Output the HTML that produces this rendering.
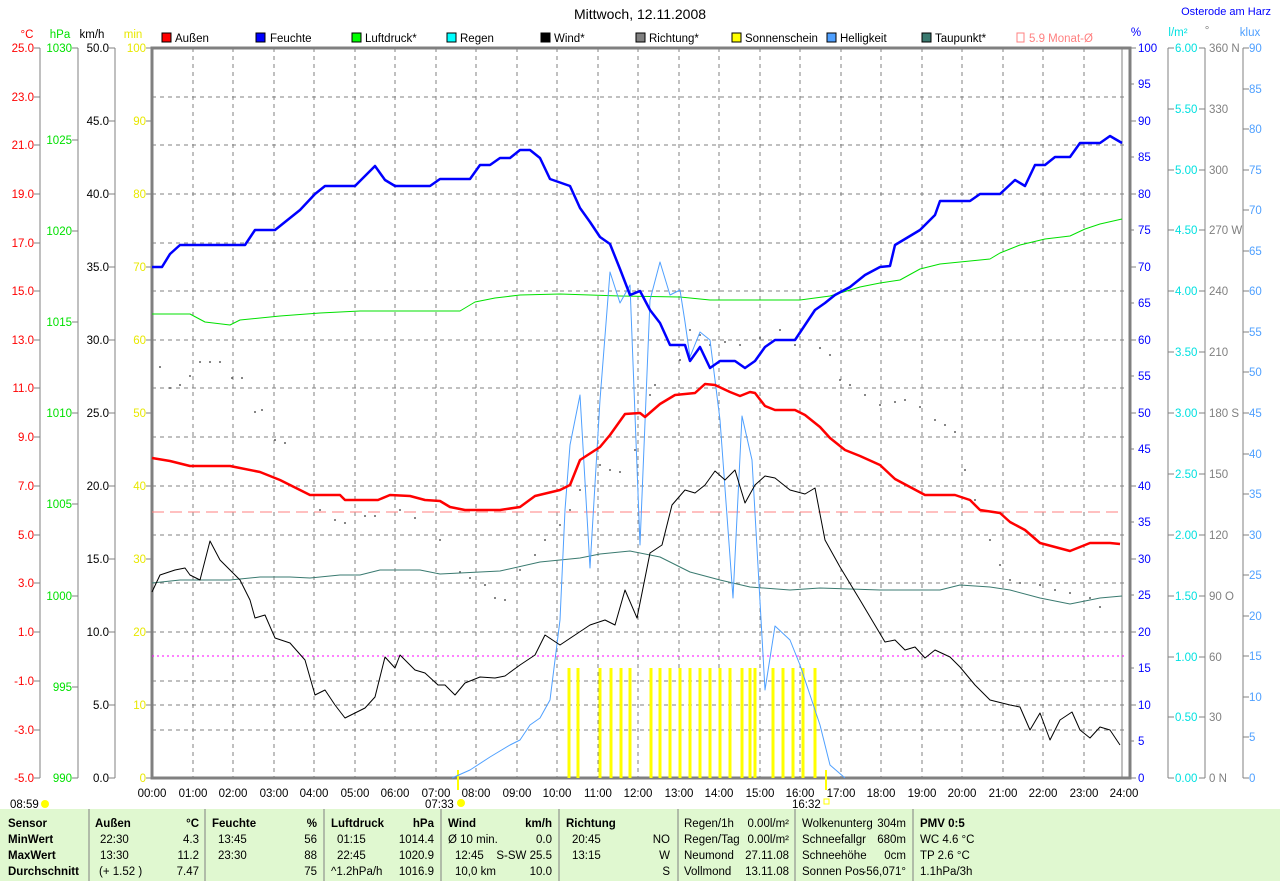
<!DOCTYPE html>
<html><head><meta charset="utf-8"><style>
body{margin:0;background:#fff;width:1280px;height:881px;overflow:hidden;font-family:"Liberation Sans",sans-serif}
svg text{font-family:"Liberation Sans",sans-serif;font-size:11.5px}
</style></head><body>
<svg width="1280" height="881" xmlns="http://www.w3.org/2000/svg">
<text x="640" y="19" text-anchor="middle" style="font-size:14px">Mittwoch, 12.11.2008</text>
<text x="1271" y="15" text-anchor="end" fill="#0000ff" style="font-size:11px">Osterode am Harz</text>
<!-- unit labels -->
<text x="27" y="38" fill="#ff0000" text-anchor="middle">°C</text>
<text x="60" y="38" fill="#00e000" text-anchor="middle">hPa</text>
<text x="92" y="38" text-anchor="middle">km/h</text>
<text x="133" y="38" fill="#e8e800" text-anchor="middle">min</text>
<text x="1136" y="36" fill="#0000ff" text-anchor="middle">%</text>
<text x="1178" y="36" fill="#00e0e0" text-anchor="middle">l/m²</text>
<text x="1207" y="34" fill="#808080" text-anchor="middle">°</text>
<text x="1250" y="36" fill="#4fa0ff" text-anchor="middle">klux</text>
<!-- legend -->
<g>
<rect x="162" y="33" width="9" height="9" fill="#f00" stroke="#000"/><text x="175" y="42">Außen</text>
<rect x="256" y="33" width="9" height="9" fill="#00f" stroke="#000"/><text x="270" y="42">Feuchte</text>
<rect x="352" y="33" width="9" height="9" fill="#0f0" stroke="#000"/><text x="365" y="42">Luftdruck*</text>
<rect x="447" y="33" width="9" height="9" fill="#0ff" stroke="#000"/><text x="460" y="42">Regen</text>
<rect x="541" y="33" width="9" height="9" fill="#000" stroke="#000"/><text x="554" y="42">Wind*</text>
<rect x="636" y="33" width="9" height="9" fill="#808080" stroke="#000"/><text x="649" y="42">Richtung*</text>
<rect x="732" y="33" width="9" height="9" fill="#ff0" stroke="#000"/><text x="745" y="42">Sonnenschein</text>
<rect x="827" y="33" width="9" height="9" fill="#4fa0ff" stroke="#000"/><text x="840" y="42">Helligkeit</text>
<rect x="922" y="33" width="9" height="9" fill="#3a7a70" stroke="#000"/><text x="935" y="42">Taupunkt*</text>
<rect x="1017" y="33" width="7" height="9" fill="none" stroke="#ff8080"/><text x="1029" y="42" fill="#ff8080">5.9 Monat-Ø</text>
</g>
<!-- grid -->
<g stroke="#808080" stroke-dasharray="4,4" stroke-width="1">
<path d="M193 48V778M233 48V778M274 48V778M314 48V778M355 48V778M395 48V778M436 48V778M476 48V778M517 48V778M557 48V778M598 48V778M638 48V778M679 48V778M719 48V778M760 48V778M800 48V778M841 48V778M881 48V778M922 48V778M962 48V778M1003 48V778M1043 48V778M1084 48V778"/>
<path d="M152 97H1124M152 145H1124M152 194H1124M152 243H1124M152 291H1124M152 340H1124M152 388H1124M152 437H1124M152 486H1124M152 535H1124M152 583H1124M152 632H1124M152 681H1124M152 705H1124M152 730H1124"/>
</g>
<!-- frame -->
<g stroke="#808080" fill="none">
<rect x="152" y="48" width="978" height="730" stroke-width="3"/>
<path d="M1122 48V778"/>
<path d="M40 48V778M78 48V778M115 48V778M1168 48V778M1205 48V778M1243 48V778"/>
</g>
<g fill="#ff0000" text-anchor="end">
<text x="34" y="52">25.0</text><text x="34" y="101">23.0</text><text x="34" y="149">21.0</text><text x="34" y="198">19.0</text><text x="34" y="247">17.0</text><text x="34" y="295">15.0</text><text x="34" y="344">13.0</text><text x="34" y="392">11.0</text><text x="34" y="441">9.0</text><text x="34" y="490">7.0</text><text x="34" y="539">5.0</text><text x="34" y="587">3.0</text><text x="34" y="636">1.0</text><text x="34" y="685">-1.0</text><text x="34" y="734">-3.0</text><text x="34" y="782">-5.0</text>
</g>
<g stroke="#808080"><path d="M34 48h6M34 97h6M34 145h6M34 194h6M34 243h6M34 291h6M34 340h6M34 388h6M34 437h6M34 486h6M34 535h6M34 583h6M34 632h6M34 681h6M34 730h6M34 778h6"/>
<path d="M72 48h6M72 140h6M72 231h6M72 322h6M72 413h6M72 504h6M72 596h6M72 687h6M72 778h6"/>
<path d="M109 48h6M109 121h6M109 194h6M109 267h6M109 340h6M109 413h6M109 486h6M109 559h6M109 632h6M109 705h6M109 778h6"/>
<path d="M146 48h6M146 121h6M146 194h6M146 267h6M146 340h6M146 413h6M146 486h6M146 559h6M146 632h6M146 705h6M146 778h6"/>
<path d="M1130 48h6M1130 84h4M1130 121h6M1130 157h4M1130 194h6M1130 230h4M1130 267h6M1130 303h4M1130 340h6M1130 376h4M1130 413h6M1130 449h4M1130 486h6M1130 522h4M1130 559h6M1130 595h4M1130 632h6M1130 668h4M1130 705h6M1130 741h4M1130 778h6"/>
<path d="M1168 48h6M1168 109h6M1168 170h6M1168 230h6M1168 291h6M1168 352h6M1168 413h6M1168 474h6M1168 535h6M1168 596h6M1168 657h6M1168 717h6M1168 778h6"/>
<path d="M1199 48h6M1199 109h6M1199 170h6M1199 230h6M1199 291h6M1199 352h6M1199 413h6M1199 474h6M1199 535h6M1199 596h6M1199 657h6M1199 717h6M1199 778h6"/>
<path d="M1243 48h6M1243 89h6M1243 129h6M1243 170h6M1243 210h6M1243 251h6M1243 291h6M1243 332h6M1243 372h6M1243 413h6M1243 454h6M1243 494h6M1243 535h6M1243 575h6M1243 616h6M1243 656h6M1243 697h6M1243 737h6M1243 778h6"/>
</g>
<g fill="#00e000" text-anchor="end"><text x="72" y="52">1030</text><text x="72" y="144">1025</text><text x="72" y="235">1020</text><text x="72" y="326">1015</text><text x="72" y="417">1010</text><text x="72" y="508">1005</text><text x="72" y="600">1000</text><text x="72" y="691">995</text><text x="72" y="782">990</text></g>
<g fill="#000" text-anchor="end"><text x="109" y="52">50.0</text><text x="109" y="125">45.0</text><text x="109" y="198">40.0</text><text x="109" y="271">35.0</text><text x="109" y="344">30.0</text><text x="109" y="417">25.0</text><text x="109" y="490">20.0</text><text x="109" y="563">15.0</text><text x="109" y="636">10.0</text><text x="109" y="709">5.0</text><text x="109" y="782">0.0</text></g>
<g fill="#e8e800" text-anchor="end"><text x="146" y="52">100</text><text x="146" y="125">90</text><text x="146" y="198">80</text><text x="146" y="271">70</text><text x="146" y="344">60</text><text x="146" y="417">50</text><text x="146" y="490">40</text><text x="146" y="563">30</text><text x="146" y="636">20</text><text x="146" y="709">10</text><text x="146" y="782">0</text></g>
<g fill="#0000ff"><text x="1138" y="52">100</text><text x="1138" y="88">95</text><text x="1138" y="125">90</text><text x="1138" y="161">85</text><text x="1138" y="198">80</text><text x="1138" y="234">75</text><text x="1138" y="271">70</text><text x="1138" y="307">65</text><text x="1138" y="344">60</text><text x="1138" y="380">55</text><text x="1138" y="417">50</text><text x="1138" y="453">45</text><text x="1138" y="490">40</text><text x="1138" y="526">35</text><text x="1138" y="563">30</text><text x="1138" y="599">25</text><text x="1138" y="636">20</text><text x="1138" y="672">15</text><text x="1138" y="709">10</text><text x="1138" y="745">5</text><text x="1138" y="782">0</text></g>
<g fill="#00e0e0"><text x="1175" y="52">6.00</text><text x="1175" y="113">5.50</text><text x="1175" y="174">5.00</text><text x="1175" y="234">4.50</text><text x="1175" y="295">4.00</text><text x="1175" y="356">3.50</text><text x="1175" y="417">3.00</text><text x="1175" y="478">2.50</text><text x="1175" y="539">2.00</text><text x="1175" y="600">1.50</text><text x="1175" y="661">1.00</text><text x="1175" y="721">0.50</text><text x="1175" y="782">0.00</text></g>
<g fill="#808080"><text x="1209" y="52">360 N</text><text x="1209" y="113">330</text><text x="1209" y="174">300</text><text x="1209" y="234">270 W</text><text x="1209" y="295">240</text><text x="1209" y="356">210</text><text x="1209" y="417">180 S</text><text x="1209" y="478">150</text><text x="1209" y="539">120</text><text x="1209" y="600">90  O</text><text x="1209" y="661">60</text><text x="1209" y="721">30</text><text x="1209" y="782">0    N</text></g>
<g fill="#4fa0ff"><text x="1249" y="52">90</text><text x="1249" y="93">85</text><text x="1249" y="133">80</text><text x="1249" y="174">75</text><text x="1249" y="214">70</text><text x="1249" y="255">65</text><text x="1249" y="295">60</text><text x="1249" y="336">55</text><text x="1249" y="376">50</text><text x="1249" y="417">45</text><text x="1249" y="458">40</text><text x="1249" y="498">35</text><text x="1249" y="539">30</text><text x="1249" y="579">25</text><text x="1249" y="620">20</text><text x="1249" y="660">15</text><text x="1249" y="701">10</text><text x="1249" y="741">5</text><text x="1249" y="782">0</text></g>
<g text-anchor="middle"><text x="152" y="797">00:00</text><text x="193" y="797">01:00</text><text x="233" y="797">02:00</text><text x="274" y="797">03:00</text><text x="314" y="797">04:00</text><text x="355" y="797">05:00</text><text x="395" y="797">06:00</text><text x="436" y="797">07:00</text><text x="476" y="797">08:00</text><text x="517" y="797">09:00</text><text x="557" y="797">10:00</text><text x="598" y="797">11:00</text><text x="638" y="797">12:00</text><text x="679" y="797">13:00</text><text x="719" y="797">14:00</text><text x="760" y="797">15:00</text><text x="800" y="797">16:00</text><text x="841" y="797">17:00</text><text x="881" y="797">18:00</text><text x="922" y="797">19:00</text><text x="962" y="797">20:00</text><text x="1003" y="797">21:00</text><text x="1043" y="797">22:00</text><text x="1084" y="797">23:00</text><text x="1124" y="797">24:00</text></g>
<text x="10" y="808">08:59</text><circle cx="45" cy="804" r="4" fill="#ff0"/>
<text x="425" y="808">07:33</text><circle cx="461" cy="803" r="4" fill="#ff0"/>
<text x="792" y="808">16:32</text><rect x="824" y="799" width="5" height="5" fill="none" stroke="#ff0"/>
<path d="M458 770V790M826 770V790" stroke="#ff0" stroke-width="2"/>
<path d="M152 512H1124" stroke="#ff8080" stroke-dasharray="12,6"/>
<path d="M152 656H1124" stroke="#ff00ff" stroke-dasharray="2,3"/>
<g stroke="#ff0" stroke-width="3"><path d="M569 668V778M578 668V778M600 668V778M611 668V778M621 668V778M630 668V778M651 668V778M660 668V778M670 668V778M680 668V778M690 668V778M700 668V778M710 668V778M720 668V778M730 668V778M742 668V778M750 668V778M755 668V778M773 668V778M783 668V778M793 668V778M803 668V778M815 668V778"/></g>
<g fill="#606060">
<circle cx="160" cy="367" r="1"/><circle cx="170" cy="388" r="1"/><circle cx="180" cy="385" r="1"/><circle cx="190" cy="376" r="1"/><circle cx="200" cy="362" r="1"/><circle cx="210" cy="362" r="1"/><circle cx="220" cy="362" r="1"/><circle cx="232" cy="378" r="1"/><circle cx="242" cy="378" r="1"/><circle cx="255" cy="412" r="1"/><circle cx="262" cy="410" r="1"/><circle cx="275" cy="440" r="1"/><circle cx="285" cy="443" r="1"/><circle cx="320" cy="510" r="1"/><circle cx="335" cy="520" r="1"/><circle cx="345" cy="523" r="1"/><circle cx="365" cy="516" r="1"/><circle cx="375" cy="516" r="1"/><circle cx="400" cy="510" r="1"/><circle cx="415" cy="518" r="1"/><circle cx="440" cy="540" r="1"/><circle cx="460" cy="572" r="1"/><circle cx="470" cy="578" r="1"/><circle cx="485" cy="585" r="1"/><circle cx="495" cy="598" r="1"/><circle cx="505" cy="600" r="1"/><circle cx="520" cy="570" r="1"/><circle cx="535" cy="555" r="1"/><circle cx="545" cy="540" r="1"/><circle cx="560" cy="525" r="1"/><circle cx="570" cy="510" r="1"/><circle cx="580" cy="490" r="1"/><circle cx="600" cy="465" r="1"/><circle cx="610" cy="470" r="1"/><circle cx="620" cy="472" r="1"/><circle cx="635" cy="450" r="1"/><circle cx="650" cy="395" r="1"/><circle cx="655" cy="385" r="1"/><circle cx="680" cy="360" r="1"/><circle cx="690" cy="330" r="1"/><circle cx="700" cy="335" r="1"/><circle cx="710" cy="345" r="1"/><circle cx="725" cy="342" r="1"/><circle cx="740" cy="345" r="1"/><circle cx="760" cy="338" r="1"/><circle cx="780" cy="330" r="1"/><circle cx="795" cy="345" r="1"/><circle cx="820" cy="348" r="1"/><circle cx="830" cy="355" r="1"/><circle cx="840" cy="380" r="1"/><circle cx="850" cy="385" r="1"/><circle cx="865" cy="395" r="1"/><circle cx="880" cy="405" r="1"/><circle cx="895" cy="402" r="1"/><circle cx="905" cy="400" r="1"/><circle cx="920" cy="407" r="1"/><circle cx="935" cy="420" r="1"/><circle cx="945" cy="425" r="1"/><circle cx="955" cy="432" r="1"/><circle cx="965" cy="470" r="1"/><circle cx="975" cy="500" r="1"/><circle cx="990" cy="540" r="1"/><circle cx="1000" cy="565" r="1"/><circle cx="1010" cy="580" r="1"/><circle cx="1020" cy="583" r="1"/><circle cx="1040" cy="585" r="1"/><circle cx="1055" cy="590" r="1"/><circle cx="1070" cy="593" r="1"/><circle cx="1090" cy="598" r="1"/><circle cx="1100" cy="607" r="1"/>
</g>
<g fill="none" stroke-linejoin="round">
<polyline stroke="#3a7a70" stroke-width="1" points="152,583 180,580 230,580 260,577 290,577 310,578 340,575 360,575 380,570 420,570 440,574 460,573 500,571 540,562 580,558 600,554 630,551 660,557 690,572 720,580 750,587 790,590 820,588 880,590 940,590 960,585 990,587 1010,590 1040,598 1070,604 1100,598 1122,596"/>
<polyline stroke="#00e000" stroke-width="1" points="152,314 190,314 205,322 230,325 240,320 280,316 320,313 360,311 460,311 475,302 495,298 520,295 560,294 620,296 680,297 710,300 800,300 830,296 860,287 880,283 900,280 920,269 940,264 960,262 990,259 1000,253 1020,245 1045,239 1070,236 1085,229 1100,224 1122,219"/>
<polyline stroke="#4fa0ff" stroke-width="1" points="452,778 470,770 490,757 510,745 520,740 530,725 540,718 550,700 560,620 565,510 570,445 580,395 590,568 600,400 610,272 620,303 630,285 640,545 650,300 660,262 670,295 680,290 685,322 690,357 700,332 710,340 720,420 733,598 742,416 752,460 765,690 775,626 790,640 800,665 810,695 820,725 830,765 845,778"/>
<polyline stroke="#000" stroke-width="1" points="152,592 160,575 175,570 185,568 190,575 200,580 210,541 220,560 230,570 240,580 250,600 255,618 265,615 275,638 290,643 305,660 315,695 325,690 335,705 345,718 355,713 365,708 375,697 385,657 395,668 400,655 415,670 425,673 438,685 445,685 455,695 465,683 480,677 495,678 505,676 520,665 535,655 545,635 560,645 575,635 590,625 605,620 615,625 625,590 637,618 650,553 662,545 672,505 685,490 695,493 705,485 715,471 725,480 735,470 745,503 755,485 765,476 775,478 790,490 805,494 815,488 825,540 840,567 860,600 885,642 895,640 905,650 915,647 925,658 935,650 950,657 960,667 975,685 990,700 1010,705 1020,707 1030,730 1040,713 1050,740 1060,720 1072,712 1080,730 1090,738 1100,727 1110,730 1120,745"/>
<polyline stroke="#ff0000" stroke-width="2.5" points="152,458 170,461 190,466 230,466 260,472 280,480 300,490 310,495 340,495 345,500 378,500 390,495 410,496 425,500 440,501 450,507 465,510 500,510 520,507 535,496 560,490 570,485 580,460 600,447 610,435 625,414 640,413 645,417 660,404 675,395 695,393 705,384 715,385 730,392 740,396 750,392 755,393 765,406 775,410 795,410 805,415 820,427 830,438 845,450 860,456 880,465 895,479 910,487 925,495 955,495 970,500 980,510 1000,513 1010,522 1025,530 1040,543 1055,547 1070,551 1080,547 1090,543 1110,543 1120,544"/>
<polyline stroke="#0000ff" stroke-width="2.5" points="152,267 162,267 170,254 180,245 245,245 255,230 275,230 300,210 315,194 325,186 355,186 365,176 375,166 385,180 395,186 430,186 440,179 470,179 480,165 490,165 500,158 510,158 520,150 530,150 540,158 550,179 570,186 580,208 590,222 600,237 610,244 620,269 630,295 640,291 650,310 660,323 670,345 685,345 690,361 700,347 710,368 720,361 735,361 745,368 755,361 765,347 775,340 795,340 805,325 815,310 825,303 835,295 850,287 865,275 880,267 890,266 895,245 905,239 920,230 935,215 940,201 970,201 980,194 1000,194 1015,180 1025,186 1035,165 1045,165 1055,157 1070,157 1080,143 1100,143 1110,136 1122,143"/>
</g>
<rect x="0" y="809" width="1280" height="72" fill="#e0f8d0"/>
<g stroke="#808080"><path d="M89 809V881M205 809V881M324 809V881M441 809V881M559 809V881M678 809V881M795 809V881M913 809V881"/></g>
<g style="font-size:11px">
<g font-weight="bold"><text x="8" y="827">Sensor</text><text x="8" y="843">MinWert</text><text x="8" y="859">MaxWert</text><text x="8" y="875">Durchschnitt</text>
<text x="95" y="827">Außen</text><text x="199" y="827" text-anchor="end">°C</text>
<text x="212" y="827">Feuchte</text><text x="317" y="827" text-anchor="end">%</text>
<text x="331" y="827">Luftdruck</text><text x="434" y="827" text-anchor="end">hPa</text>
<text x="448" y="827">Wind</text><text x="552" y="827" text-anchor="end">km/h</text>
<text x="566" y="827">Richtung</text>
<text x="920" y="827">PMV 0:5</text></g>
<text x="100" y="843">22:30</text><text x="199" y="843" text-anchor="end">4.3</text>
<text x="100" y="859">13:30</text><text x="199" y="859" text-anchor="end">11.2</text>
<text x="99" y="875">(+ 1.52 )</text><text x="199" y="875" text-anchor="end">7.47</text>
<text x="218" y="843">13:45</text><text x="317" y="843" text-anchor="end">56</text>
<text x="218" y="859">23:30</text><text x="317" y="859" text-anchor="end">88</text>
<text x="317" y="875" text-anchor="end">75</text>
<text x="337" y="843">01:15</text><text x="434" y="843" text-anchor="end">1014.4</text>
<text x="337" y="859">22:45</text><text x="434" y="859" text-anchor="end">1020.9</text>
<text x="331" y="875">^1.2hPa/h</text><text x="434" y="875" text-anchor="end">1016.9</text>
<text x="448" y="843">Ø 10 min.</text><text x="552" y="843" text-anchor="end">0.0</text>
<text x="455" y="859">12:45</text><text x="552" y="859" text-anchor="end">S-SW 25.5</text>
<text x="455" y="875">10,0 km</text><text x="552" y="875" text-anchor="end">10.0</text>
<text x="572" y="843">20:45</text><text x="670" y="843" text-anchor="end">NO</text>
<text x="572" y="859">13:15</text><text x="670" y="859" text-anchor="end">W</text>
<text x="670" y="875" text-anchor="end">S</text>
<text x="684" y="827">Regen/1h</text><text x="789" y="827" text-anchor="end">0.00l/m²</text>
<text x="684" y="843">Regen/Tag</text><text x="789" y="843" text-anchor="end">0.00l/m²</text>
<text x="684" y="859">Neumond</text><text x="789" y="859" text-anchor="end">27.11.08</text>
<text x="684" y="875">Vollmond</text><text x="789" y="875" text-anchor="end">13.11.08</text>
<text x="802" y="827">Wolkenunterg</text><text x="906" y="827" text-anchor="end">304m</text>
<text x="802" y="843">Schneefallgr</text><text x="906" y="843" text-anchor="end">680m</text>
<text x="802" y="859">Schneehöhe</text><text x="906" y="859" text-anchor="end">0cm</text>
<text x="802" y="875">Sonnen Pos</text><text x="906" y="875" text-anchor="end">-56,071°</text>
<text x="920" y="843">WC 4.6 °C</text><text x="920" y="859">TP 2.6 °C</text><text x="920" y="875">1.1hPa/3h</text>
</g>
</svg>
</body></html>
